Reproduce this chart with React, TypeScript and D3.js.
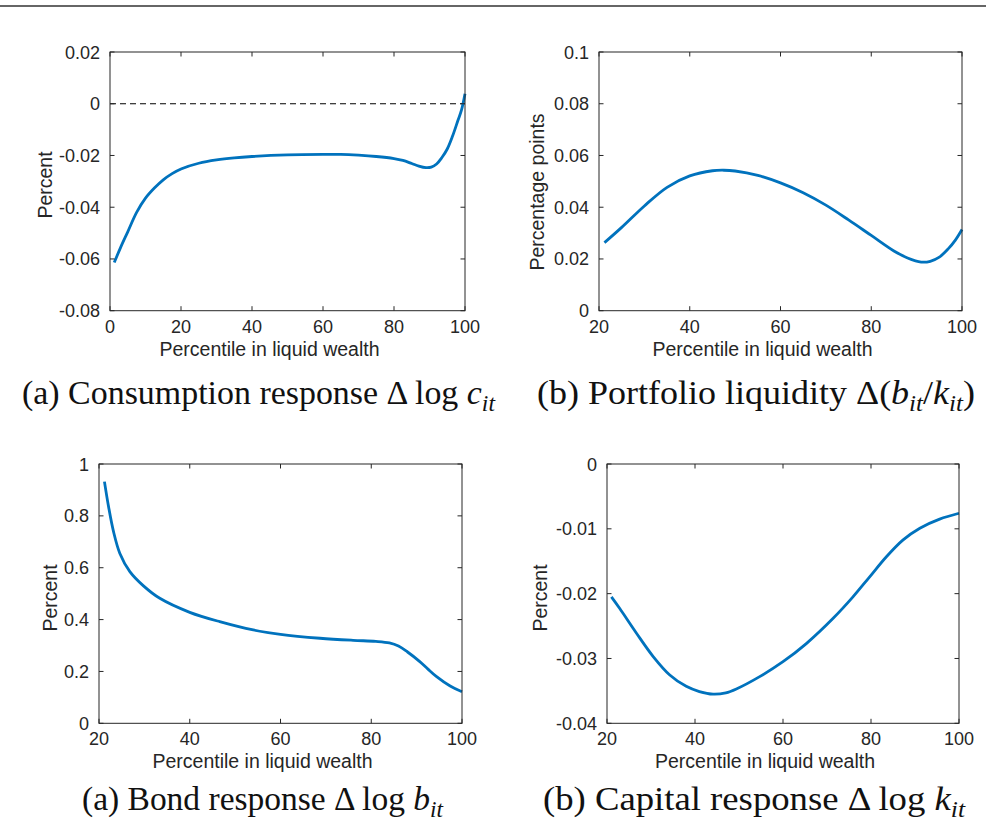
import React from "react";
import * as d3 from "d3";

// Panel (a): consumption response, percentile 0-100
const consX = [1.2, 3, 5, 7.5, 10, 12.5, 15, 17.5, 20, 25, 30, 35, 40, 50, 60, 65, 70, 75, 80, 82.5, 85, 87, 89, 90.5, 92, 93.5, 95, 96.5, 98, 99, 100];
const consY = [-0.0614, -0.0555, -0.0495, -0.042, -0.0365, -0.0326, -0.0294, -0.027, -0.0252, -0.023, -0.0217, -0.0209, -0.0204, -0.0198, -0.0196, -0.0196, -0.0199, -0.0204, -0.0212, -0.0219, -0.0231, -0.0241, -0.0247, -0.0245, -0.0233, -0.0208, -0.0175, -0.0125, -0.0065, -0.0025, 0.0039];

// Panel (b): portfolio liquidity
const liqX = [21.2, 25, 30, 35, 40, 45, 47.5, 50, 55, 60, 65, 70, 75, 80, 85, 88, 91, 93, 95, 97, 98.5, 100];
const liqY = [0.0263, 0.0322, 0.0405, 0.0477, 0.0521, 0.0541, 0.0543, 0.054, 0.0523, 0.0494, 0.0456, 0.0408, 0.0351, 0.0291, 0.0231, 0.0204, 0.0188, 0.0191, 0.0207, 0.024, 0.0272, 0.0314];

// Panel (c): bond response
const bondX = [21.2, 22.1, 23.2, 24.6, 26.8, 29.8, 33.4, 40, 46.6, 54, 60, 68.7, 76, 81, 84, 86, 88, 90.7, 92.5, 94.4, 97.3, 100];
const bondY = [0.932, 0.836, 0.739, 0.655, 0.585, 0.53, 0.482, 0.428, 0.392, 0.36, 0.343, 0.328, 0.32, 0.316, 0.31, 0.298, 0.275, 0.238, 0.209, 0.18, 0.145, 0.122];

// Panel (d): capital response
const capX = [21, 22.9, 26.7, 30.5, 34.2, 38, 41, 44.1, 47, 49.4, 54.7, 60, 65.3, 71.4, 75.9, 79.7, 83.5, 87.3, 91.1, 95.6, 100];
const capY = [-0.0205, -0.0223, -0.0261, -0.0297, -0.0325, -0.0343, -0.0351, -0.0355, -0.0353, -0.0347, -0.0328, -0.0305, -0.0277, -0.0238, -0.0205, -0.0174, -0.0143, -0.0117, -0.0099, -0.0085, -0.0076];

// Axis ticks and labels
const xTicksFull = [0, 20, 40, 60, 80, 100];
const xTicksUpper = [20, 40, 60, 80, 100];
const consTicks = [-0.08, -0.06, -0.04, -0.02, 0, 0.02];
const consTickLabels = ["-0.08", "-0.06", "-0.04", "-0.02", "0", "0.02"];
const liqTicks = [0, 0.02, 0.04, 0.06, 0.08, 0.1];
const liqTickLabels = ["0", "0.02", "0.04", "0.06", "0.08", "0.1"];
const bondTicks = [0, 0.2, 0.4, 0.6, 0.8, 1];
const bondTickLabels = ["0", "0.2", "0.4", "0.6", "0.8", "1"];
const capTicks = [-0.04, -0.03, -0.02, -0.01, 0];
const capTickLabels = ["-0.04", "-0.03", "-0.02", "-0.01", "0"];

const xLabel = "Percentile in liquid wealth";

const AXIS = "#262626";
const LINE = "#0072BD";
const SANS = "'Liberation Sans', Arial, Helvetica, sans-serif";
const SERIF = "'Liberation Serif', 'Times New Roman', serif";

type PanelProps = {
  box: { left: number; right: number; top: number; bottom: number };
  xDomain: [number, number];
  yDomain: [number, number];
  xTicks: number[];
  yTicks: number[];
  yTickLabels: string[];
  xs: number[];
  ys: number[];
  yLabel: string;
  yLabelX: number;
  yLabelY: number;
  zeroLine?: boolean;
};

function Panel(p: PanelProps) {
  const { box } = p;
  const x = d3.scaleLinear().domain(p.xDomain).range([box.left, box.right]);
  const y = d3.scaleLinear().domain(p.yDomain).range([box.bottom, box.top]);
  const pts = p.xs.map((v, i) => [v, p.ys[i]] as [number, number]);
  const line = d3
    .line<[number, number]>()
    .x((d) => x(d[0]))
    .y((d) => y(d[1]))
    .curve(d3.curveCatmullRom.alpha(0.5));
  const tl = 4.5;
  const xl = (box.left + box.right) / 2 - 18;
  return (
    <g>
      {p.zeroLine && (
        <line
          x1={x(p.xDomain[0])}
          x2={x(p.xDomain[1])}
          y1={y(0)}
          y2={y(0)}
          stroke="#000"
          strokeWidth={1.2}
          strokeDasharray="6,4"
        />
      )}
      <path d={line(pts) || ""} fill="none" stroke={LINE} strokeWidth={2.8} strokeLinejoin="round" />
      <rect
        x={box.left}
        y={box.top}
        width={box.right - box.left}
        height={box.bottom - box.top}
        fill="none"
        stroke={AXIS}
        strokeWidth={1}
      />
      {p.xTicks.map((t) => (
        <g key={"x" + t}>
          <line x1={x(t)} x2={x(t)} y1={box.bottom} y2={box.bottom - tl} stroke={AXIS} />
          <line x1={x(t)} x2={x(t)} y1={box.top} y2={box.top + tl} stroke={AXIS} />
          <text x={x(t)} y={box.bottom + 22} textAnchor="middle" fontFamily={SANS} fontSize={18} fill={AXIS}>
            {t}
          </text>
        </g>
      ))}
      {p.yTicks.map((t, i) => (
        <g key={"y" + t}>
          <line x1={box.left} x2={box.left + tl} y1={y(t)} y2={y(t)} stroke={AXIS} />
          <line x1={box.right} x2={box.right - tl} y1={y(t)} y2={y(t)} stroke={AXIS} />
          <text
            x={box.left - 10}
            y={y(t) + 6.5}
            textAnchor="end"
            fontFamily={SANS}
            fontSize={18}
            fill={AXIS}
          >
            {p.yTickLabels[i]}
          </text>
        </g>
      ))}
      <text x={xl} y={box.bottom + 45} textAnchor="middle" fontFamily={SANS} fontSize={19.5} fill={AXIS}>
        {xLabel}
      </text>
      <text
        transform={`translate(${p.yLabelX},${p.yLabelY}) rotate(-90)`}
        textAnchor="middle"
        fontFamily={SANS}
        fontSize={19.5}
        fill={AXIS}
      >
        {p.yLabel}
      </text>
    </g>
  );
}

const SUB = 23;
const DY = 7;

export default function App() {
  return (
    <svg
      width={1000}
      height={828}
      viewBox="0 0 1000 828"
      style={{ position: "absolute", left: 0, top: 0, background: "#fff" }}
    >
      <rect width={1000} height={828} fill="#fff" />
      <line x1={0} x2={986} y1={6} y2={6} stroke="#333" strokeWidth={1.6} />

      <Panel
        box={{ left: 110, right: 465, top: 52, bottom: 310.7 }}
        xDomain={[0, 100]}
        yDomain={[-0.08, 0.02]}
        xTicks={xTicksFull}
        yTicks={consTicks}
        yTickLabels={consTickLabels}
        xs={consX}
        ys={consY}
        yLabel="Percent"
        yLabelX={52}
        yLabelY={185}
        zeroLine
      />
      <Panel
        box={{ left: 599, right: 962, top: 52, bottom: 310.7 }}
        xDomain={[20, 100]}
        yDomain={[0, 0.1]}
        xTicks={xTicksUpper}
        yTicks={liqTicks}
        yTickLabels={liqTickLabels}
        xs={liqX}
        ys={liqY}
        yLabel="Percentage points"
        yLabelX={544}
        yLabelY={192}
      />
      <Panel
        box={{ left: 99, right: 462, top: 464, bottom: 723.3 }}
        xDomain={[20, 100]}
        yDomain={[0, 1]}
        xTicks={xTicksUpper}
        yTicks={bondTicks}
        yTickLabels={bondTickLabels}
        xs={bondX}
        ys={bondY}
        yLabel="Percent"
        yLabelX={57}
        yLabelY={598}
      />
      <Panel
        box={{ left: 607, right: 959, top: 464, bottom: 723.3 }}
        xDomain={[20, 100]}
        yDomain={[-0.04, 0]}
        xTicks={xTicksUpper}
        yTicks={capTicks}
        yTickLabels={capTickLabels}
        xs={capX}
        ys={capY}
        yLabel="Percent"
        yLabelX={547}
        yLabelY={598}
      />

      <g fontFamily={SERIF} fontSize={33} fill="#111">
        <text x={22} y={404} textLength={473} lengthAdjust="spacingAndGlyphs">
          {"(a) Consumption response \u0394 log "}
          <tspan fontStyle="italic">c</tspan>
          <tspan fontStyle="italic" fontSize={SUB} dy={DY}>it</tspan>
        </text>
        <text x={537} y={404} textLength={438} lengthAdjust="spacingAndGlyphs">
          {"(b) Portfolio liquidity \u0394("}
          <tspan fontStyle="italic">b</tspan>
          <tspan fontStyle="italic" fontSize={SUB} dy={DY}>it</tspan>
          <tspan dy={-DY}>/</tspan>
          <tspan fontStyle="italic">k</tspan>
          <tspan fontStyle="italic" fontSize={SUB} dy={DY}>it</tspan>
          <tspan dy={-DY}>)</tspan>
        </text>
        <text x={82} y={810} textLength={361} lengthAdjust="spacingAndGlyphs">
          {"(a) Bond response \u0394 log "}
          <tspan fontStyle="italic">b</tspan>
          <tspan fontStyle="italic" fontSize={SUB} dy={DY}>it</tspan>
        </text>
        <text x={543} y={810} textLength={422} lengthAdjust="spacingAndGlyphs">
          {"(b) Capital response \u0394 log "}
          <tspan fontStyle="italic">k</tspan>
          <tspan fontStyle="italic" fontSize={SUB} dy={DY}>it</tspan>
        </text>
      </g>
    </svg>
  );
}
